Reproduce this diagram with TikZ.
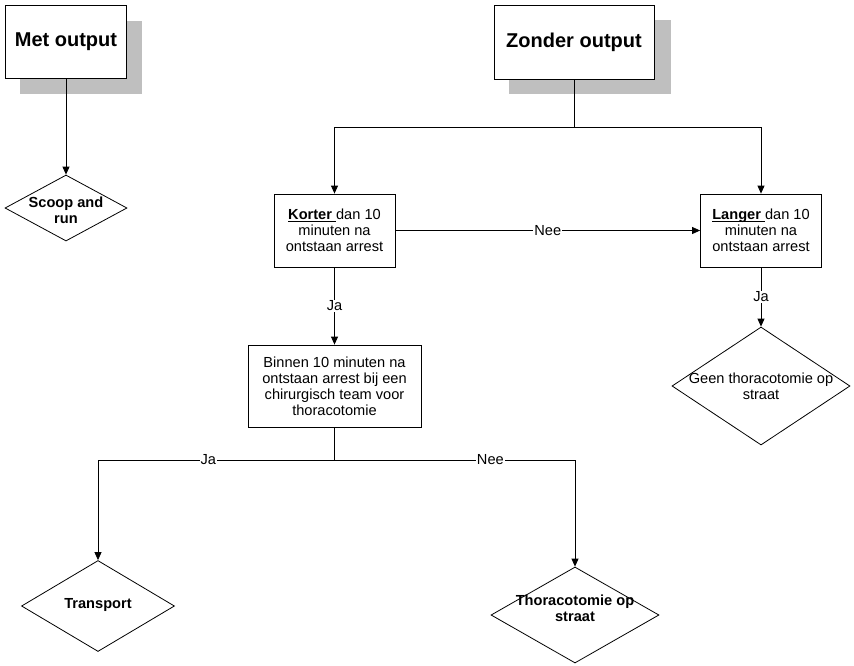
\documentclass[tikz,border=0pt]{standalone}
\usepackage{fontspec}
\setmainfont{Liberation Sans}
\usetikzlibrary{arrows.meta,shapes.geometric}
\newcommand{\bodyfont}{\fontsize{14.6}{16}\selectfont}
% underline at a fixed depth, whatever the descenders
\newcommand{\ulkey}[1]{\underline{\smash{\textbf{#1}\ }}}
\begin{document}
\begin{tikzpicture}[x=1pt,y=-1pt,
  line width=0.8pt,
  arr/.style={-{Triangle[length=8pt,width=7pt]}},
  titlebox/.style={draw,fill=white,rectangle,inner sep=0pt,font=\fontsize{20}{23}\selectfont\bfseries},
  stepbox/.style={draw,fill=white,rectangle,inner sep=0pt,align=center,font=\bodyfont},
  dia/.style={draw,fill=white,diamond,inner sep=0pt},
  diatext/.style={align=center,font=\bodyfont},
  boldtext/.style={align=center,font=\bodyfont\bfseries},
  lbl/.style={fill=white,inner sep=1pt,font=\bodyfont},
  shadowc/.style={fill=black!25,draw=none}]
\useasboundingbox (0,0) rectangle (854,665);

% drop shadows of the two start boxes
\fill[shadowc] (20,21) rectangle (142,94);
\fill[shadowc] (509,20) rectangle (671,94);

% start boxes
\node[titlebox,minimum width=121pt,minimum height=73pt] (met) at (66,41.5) {Met output};
\node[titlebox,minimum width=160pt,minimum height=74pt] (zonder) at (574,42) {Zonder output};

% decision and step boxes
\node[dia,minimum width=122pt,minimum height=66pt] (scoop) at (66,208) {};
\node[boldtext] at (66,210) {Scoop and\\run};

\node[stepbox,minimum width=121pt,minimum height=73pt] (korter) at (334.5,230.5)
  {\ulkey{Korter}dan 10\\minuten na\\ontstaan arrest};
\node[stepbox,minimum width=121pt,minimum height=73pt] (langer) at (761,230.5)
  {\ulkey{Langer}dan 10\\minuten na\\ontstaan arrest};

\node[stepbox,minimum width=173pt,minimum height=82pt] (binnen) at (334.5,386)
  {Binnen 10 minuten na\\ontstaan arrest bij een\\chirurgisch team voor\\thoracotomie};

\node[dia,minimum width=178pt,minimum height=118pt] (geen) at (761,386) {};
\node[diatext] at (761,386) {Geen thoracotomie op\\straat};

\node[dia,minimum width=153pt,minimum height=91pt] (transport) at (98,606) {};
\node[boldtext] at (98,605) {Transport};

\node[dia,minimum width=168pt,minimum height=96pt] (thora) at (575,615) {};
\node[boldtext] at (575,608) {Thoracotomie op\\straat};

% branch points
\coordinate (zs) at (574,127);
\coordinate (bs) at (334.5,460);

% connectors
\draw[arr] (met.south) -- (scoop.north);
\draw (zonder.south) -- (zs);
\draw[arr] (zs) -| (korter.north);
\draw[arr] (zs) -| (langer.north);
\draw[arr] (korter.east) -- node[lbl] {Nee} (langer.west);
\draw[arr] (korter.south) -- node[lbl] {Ja} (binnen.north);
\draw[arr] (langer.south) -- node[lbl] {Ja} (geen.north);
\draw (binnen.south) -- (bs);
\draw[arr] (bs) -| node[lbl,pos=0.267] {Ja} (transport.north);
\draw[arr] (bs) -| node[lbl,pos=0.324] {Nee} (thora.north);
\end{tikzpicture}
\end{document}
